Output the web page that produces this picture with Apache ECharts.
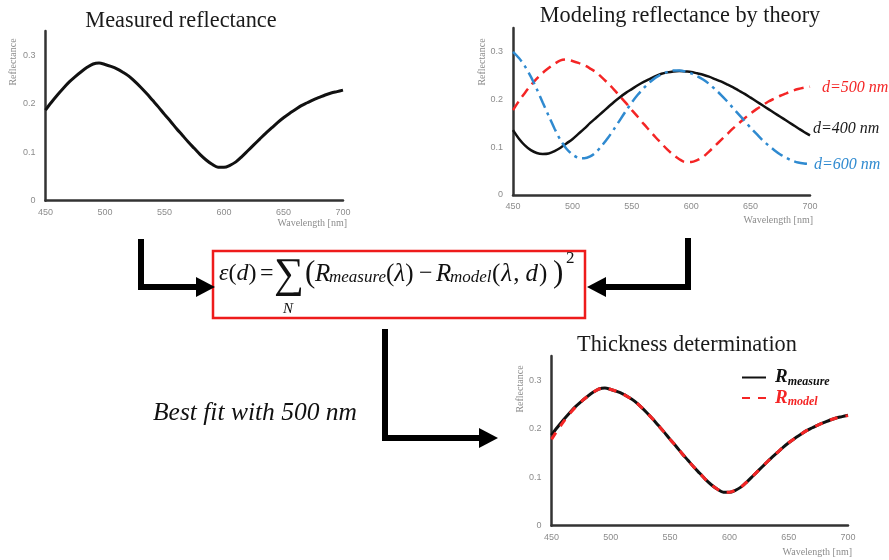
<!DOCTYPE html>
<html><head><meta charset="utf-8">
<script src="https://cdn.jsdelivr.net/npm/echarts@6/dist/echarts.min.js"></script>
<style>html,body{margin:0;padding:0;background:#fff}#c{width:889px;height:560px}</style>
</head><body><div id="c"></div><script>
// ---- data (5 nm steps) ----
const wavelengths = [450,455,460,465,470,475,480,485,490,495,500,505,510,515,520,525,530,535,540,545,550,555,560,565,570,575,580,585,590,595,600,605,610,615,620,625,630,635,640,645,650,655,660,665,670,675,680,685,690,695,700];
const measured  = [0.187,0.203,0.218,0.232,0.245,0.256,0.266,0.275,0.282,0.284,0.281,0.277,0.272,0.265,0.257,0.246,0.234,0.221,0.207,0.193,0.178,0.164,0.149,0.135,0.121,0.108,0.095,0.084,0.075,0.069,0.069,0.073,0.080,0.091,0.103,0.115,0.127,0.139,0.150,0.161,0.171,0.180,0.188,0.196,0.202,0.208,0.213,0.218,0.222,0.225,0.228];
const modelD500 = [0.178,0.197,0.214,0.230,0.244,0.256,0.266,0.275,0.282,0.284,0.281,0.277,0.272,0.265,0.257,0.246,0.234,0.221,0.207,0.193,0.178,0.164,0.149,0.135,0.121,0.108,0.095,0.084,0.075,0.069,0.069,0.073,0.080,0.091,0.103,0.115,0.127,0.139,0.150,0.161,0.171,0.180,0.188,0.196,0.202,0.208,0.213,0.218,0.222,0.225,0.227];
const modelD400 = [0.136,0.118,0.104,0.094,0.088,0.086,0.087,0.092,0.099,0.108,0.117,0.128,0.139,0.151,0.162,0.173,0.184,0.195,0.205,0.214,0.222,0.230,0.237,0.243,0.249,0.254,0.257,0.259,0.260,0.259,0.258,0.255,0.252,0.248,0.243,0.238,0.232,0.226,0.219,0.212,0.204,0.196,0.188,0.180,0.172,0.164,0.156,0.148,0.140,0.132,0.125];
const modelD600 = [0.300,0.287,0.270,0.248,0.222,0.194,0.166,0.139,0.115,0.097,0.085,0.078,0.077,0.081,0.090,0.104,0.120,0.138,0.157,0.176,0.194,0.210,0.224,0.236,0.246,0.253,0.258,0.261,0.261,0.259,0.255,0.249,0.242,0.233,0.222,0.210,0.197,0.183,0.169,0.155,0.141,0.128,0.115,0.104,0.094,0.085,0.078,0.072,0.068,0.066,0.065];
const xRange = [450, 700];
const xStep = 50;
const yRange = [0, 0.35];
const yStep = 0.1;
const chartTitles = ['Measured reflectance', 'Modeling reflectance by theory', 'Thickness determination'];
const curveNames = ['d=500 nm', 'd=400 nm', 'd=600 nm'];
const legendNames = ['R_measure', 'R_model'];

const pairs = arr => wavelengths.map((w, i) => [w, arr[i]]);

const SERIF = '"Liberation Serif","Times New Roman",serif';
const RED = '#f42525', BLUE = '#2f8ad0', BLK = '#111';
const grids = [
  {left: 45.5, top: 31, width: 297.5, height: 169.7},
  {left: 513, top: 28, width: 297, height: 167},
  {left: 551.5, top: 356, width: 296.5, height: 169.7}
];
const axisLineStyle = {color: '#333', width: 2.5};
const tickLabel = {color: '#8c8c8c', fontSize: 9, fontFamily: '"Liberation Sans",sans-serif'};

const xAxes = grids.map((g, i) => ({
  type: 'value', gridIndex: i, min: xRange[0], max: xRange[1], interval: xStep,
  axisLine: {show: true, onZero: false, lineStyle: axisLineStyle}, axisTick: {show: false}, splitLine: {show: false},
  axisLabel: Object.assign({margin: 7}, tickLabel)
}));
const yAxes = grids.map((g, i) => ({
  type: 'value', gridIndex: i, min: yRange[0], max: yRange[1], interval: yStep,
  axisLine: {show: true, lineStyle: axisLineStyle}, axisTick: {show: false}, splitLine: {show: false},
  axisLabel: Object.assign({margin: 10, showMaxLabel: false, formatter: v => String(Math.round(v * 10) / 10)}, tickLabel)
}));

const endLbl = (txt, color, off) => ({show: true, formatter: txt, color: color, fontStyle: 'italic',
  fontFamily: SERIF, fontSize: 16, offset: off});

const SM = 0.3;
const series = [
  {type: 'line', xAxisIndex: 0, yAxisIndex: 0, data: pairs(measured), smooth: SM, symbol: 'none',
   lineStyle: {color: BLK, width: 3}},
  {type: 'line', name: curveNames[0], xAxisIndex: 1, yAxisIndex: 1, data: pairs(modelD500), smooth: SM, symbol: 'none',
   lineStyle: {color: RED, width: 2.5, type: [10, 6]}, endLabel: endLbl(curveNames[0], RED, [4, 1])},
  {type: 'line', name: curveNames[1], xAxisIndex: 1, yAxisIndex: 1, data: pairs(modelD400), smooth: SM, symbol: 'none',
   lineStyle: {color: BLK, width: 2.5}, endLabel: endLbl(curveNames[1], '#1a1a1a', [-5, -7])},
  {type: 'line', name: curveNames[2], xAxisIndex: 1, yAxisIndex: 1, data: pairs(modelD600), smooth: SM, symbol: 'none',
   lineStyle: {color: BLUE, width: 2.5, type: [13, 5, 3, 5]}, endLabel: endLbl(curveNames[2], BLUE, [-4, 1])},
  {type: 'line', name: legendNames[0], xAxisIndex: 2, yAxisIndex: 2, data: pairs(measured), smooth: SM, symbol: 'none',
   lineStyle: {color: BLK, width: 3}},
  {type: 'line', name: legendNames[1], xAxisIndex: 2, yAxisIndex: 2, data: pairs(modelD500), smooth: SM, symbol: 'none',
   lineStyle: {color: RED, width: 3, type: [8, 8]}}
];

const titleStyle = {fontFamily: SERIF, fontSize: 22.3, fontWeight: 'normal', color: '#1a1a1a'};
const titles = [
  {text: chartTitles[0], left: 181, top: 10, textAlign: 'center', padding: 0, textStyle: titleStyle},
  {text: chartTitles[1], left: 680, top: 5, textAlign: 'center', padding: 0, textStyle: titleStyle},
  {text: chartTitles[2], left: 687, top: 334, textAlign: 'center', padding: 0, textStyle: titleStyle}
];

const legendRich = {
  rb: {color: BLK, fill: BLK, fontSize: 19, fontStyle: 'italic', fontWeight: 'bold', fontFamily: SERIF, lineHeight: 20, padding: [0, 0, 0, 4]},
  sb: {color: BLK, fill: BLK, fontSize: 12, fontStyle: 'italic', fontWeight: 'bold', fontFamily: SERIF, lineHeight: 9, verticalAlign: 'bottom'},
  rr: {color: RED, fill: RED, fontSize: 19, fontStyle: 'italic', fontWeight: 'bold', fontFamily: SERIF, lineHeight: 20, padding: [0, 0, 0, 4]},
  sr: {color: RED, fill: RED, fontSize: 12, fontStyle: 'italic', fontWeight: 'bold', fontFamily: SERIF, lineHeight: 9, verticalAlign: 'bottom'}
};

// ---- diagram graphics ----
const arrowW = 6;
const line = pts => ({type: 'polyline', shape: {points: pts}, style: {stroke: '#000', lineWidth: arrowW, fill: null, lineJoin: 'miter'}, z: 10});
const head = pts => ({type: 'polygon', shape: {points: pts}, style: {fill: '#000'}, z: 10});
const grey = '#8c8c8c';
const axisName = (txt, x, y, rot, align) => ({type: 'text', x: x, y: y, rotation: rot, z: 10,
  style: {text: txt, x: 0, y: 0, align: align, verticalAlign: 'middle', fill: grey, font: '10px ' + SERIF}});

// formula pieces: main line, subscripts and superscript
const FY = 274, FYS = 278, FYP = 259;
const fRich = {
  i: {fontSize: 24, fontFamily: SERIF, fontStyle: 'italic', fill: '#111'},
  u: {fontSize: 24, fontFamily: SERIF, fill: '#111'},
  i5: {fontSize: 25, fontFamily: SERIF, fontStyle: 'italic', fill: '#111'},
  u5: {fontSize: 25, fontFamily: SERIF, fill: '#111'},
  ip: {fontSize: 25, fontFamily: SERIF, fontStyle: 'italic', fill: '#111', padding: [0, 1, 0, 1]},
  id: {fontSize: 25, fontFamily: SERIF, fontStyle: 'italic', fill: '#111', padding: [0, 1, 0, 6]}
};
const fPiece = (txt, x, y, font) => ({type: 'text', z: 11, style: {text: txt, x: x, y: y, align: 'left', verticalAlign: 'middle',
  font: font || ('25px ' + SERIF), fill: '#111', rich: fRich}});
const IT = s => 'italic ' + s + 'px ' + SERIF, UP = s => s + 'px ' + SERIF;

const graphic = [
  line([[141, 239], [141, 287], [200, 287]]), head([[196, 277], [215, 287], [196, 297]]),
  line([[688, 238], [688, 287], [602, 287]]), head([[606, 277], [587, 287], [606, 297]]),
  line([[385, 329], [385, 438], [483, 438]]), head([[479, 428], [498, 438], [479, 448]]),
  {type: 'rect', shape: {x: 213, y: 251, width: 372, height: 67}, style: {fill: '#fff', stroke: '#ee1b1b', lineWidth: 2.5}, z: 9},
  fPiece('{i|ε}{u|(}{i|d}{u|)}', 219, FY),
  fPiece('=', 260, FY, UP(24)),
  fPiece('∑', 274, FY + 2, UP(42)),
  fPiece('(', 305, FY, UP(31)),
  fPiece('R', 315, FY, IT(25)),
  fPiece('measure', 329, FYS, IT(17)),
  fPiece('{u5|(}{i5|λ}{u5|)}', 386, FY),
  fPiece('−', 419, FY, UP(24)),
  fPiece('R', 436, FY, IT(25)),
  fPiece('model', 450, FYS, IT(17)),
  fPiece('{u5|(}{ip|λ}{u5|,}{id|d}{u5|)}', 492, FY),
  fPiece(')', 553, FY, UP(31)),
  fPiece('2', 566, FYP, UP(17)),
  {type: 'text', z: 11, style: {text: 'N', x: 288, y: 309, align: 'center', verticalAlign: 'middle', font: IT(15), fill: '#111'}},
  {type: 'text', z: 11, style: {text: 'Best fit with 500 nm', x: 153, y: 413, align: 'left', verticalAlign: 'middle', font: IT(25.5), fill: '#111'}},
  axisName('Reflectance', 13, 62, Math.PI / 2, 'center'),
  axisName('Reflectance', 482, 62, Math.PI / 2, 'center'),
  axisName('Reflectance', 520, 389, Math.PI / 2, 'center'),
  axisName('Wavelength [nm]', 347, 223, 0, 'right'),
  axisName('Wavelength [nm]', 813, 220, 0, 'right'),
  axisName('Wavelength [nm]', 852, 552, 0, 'right')
];

const chart = echarts.init(document.getElementById('c'), null, {renderer: 'canvas'});
chart.setOption({
  animation: false,
  backgroundColor: '#fff',
  title: titles,
  grid: grids,
  xAxis: xAxes,
  yAxis: yAxes,
  legend: {
    data: legendNames, left: 741, top: 368, orient: 'vertical', itemWidth: 24, itemHeight: 12, itemGap: 1,
    padding: 0, itemStyle: {opacity: 0}, selectedMode: false,
    formatter: n => n === legendNames[0] ? '{rb|R}{sb|measure}' : '{rr|R}{sr|model}',
    textStyle: {rich: legendRich}
  },
  series: series,
  graphic: graphic
});
</script></body></html>
